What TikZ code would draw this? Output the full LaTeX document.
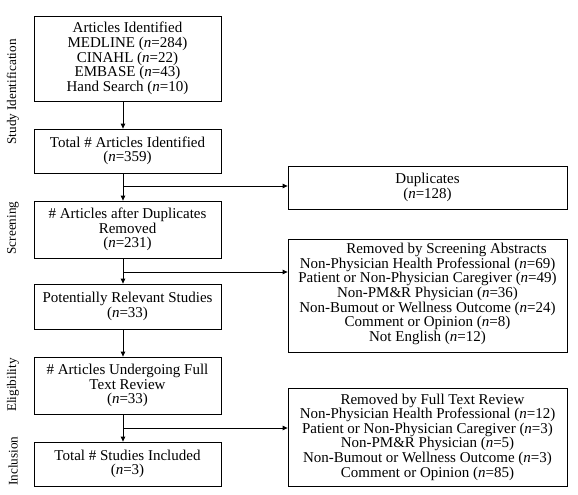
\documentclass[tikz,border=0pt]{standalone}
\usepackage{fontspec}
\setmainfont{Liberation Serif}
\usetikzlibrary{arrows.meta}
\begin{document}
\begin{tikzpicture}[x=1pt,y=-1pt,
  txt/.style={align=center,inner sep=0pt,
    font=\fontsize{15}{14.6}\selectfont},
  box/.style={txt,draw=black,line width=0.8pt},
  lbox/.style={box,minimum width=187pt},
  rbox/.style={box,minimum width=279pt},
  side/.style={rotate=90,font=\fontsize{13.2}{14.6}\selectfont},
  arr/.style={line width=0.8pt,-{Triangle[length=5pt,width=4.5pt]}}]
\useasboundingbox (0,0) rectangle (578,495);
\coordinate (ax) at (123,0);
% left column
\node[lbox,minimum height=85pt] (b1) at (127.5,58.5)
  {Articles Identified\\MEDLINE (\textit{n}=284)\\CINAHL (\textit{n}=22)\\EMBASE (\textit{n}=43)\\Hand Search (\textit{n}=10)};
\node[lbox,minimum height=44pt] (b2) at (127.5,151)
  {Total \# Articles Identified\\(\textit{n}=359)};
\node[lbox,minimum height=57pt] (b3) at (127.5,229.5)
  {\# Articles after Duplicates\\Removed\\(\textit{n}=231)};
\node[lbox,minimum height=45pt] (b4) at (127.5,306.5)
  {Potentially Relevant Studies\\(\textit{n}=33)};
\node[lbox,minimum height=57pt] (b5) at (127.5,385.5)
  {\# Articles Undergoing Full\\Text Review\\(\textit{n}=33)};
\node[lbox,minimum height=44pt] (b6) at (127.5,464)
  {Total \# Studies Included\\(\textit{n}=3)};
% right column
\node[rbox,minimum height=43pt] (dup) at (427.5,187.5)
  {Duplicates\\(\textit{n}=128)};
\node[rbox,minimum height=113pt] (scr) at (427.5,295.5) {};
\node[txt,anchor=north] (scrt) at (427.5,243)
  {\hspace*{38pt}Removed by Screening Abstracts\\Non-Physician Health Professional (\textit{n}=69)\\Patient or Non-Physician Caregiver (\textit{n}=49)\\Non-PM\&R Physician (\textit{n}=36)\\Non-Bumout or Wellness Outcome (\textit{n}=24)\\Comment or Opinion (\textit{n}=8)\\Not English (\textit{n}=12)};
\node[rbox,minimum height=98pt] (ft) at (427.5,437)
  {\hspace*{10pt}Removed by Full Text Review\\Non-Physician Health Professional (\textit{n}=12)\\Patient or Non-Physician Caregiver (\textit{n}=3)\\Non-PM\&R Physician (\textit{n}=5)\\Non-Bumout or Wellness Outcome (\textit{n}=3)\\Comment or Opinion (\textit{n}=85)};
% side labels
\node[side] (s1) at (13,92) {Study Identification};
\node[side] (s2) at (13,228) {Screening};
\node[side] (s3) at (13,385) {Eligibility};
\node[side] (s4) at (13,461) {Inclusion};
% branch points
\coordinate (p1) at (123,186);
\coordinate (p2) at (123,272);
\coordinate (p3) at (123,428);
% connectors
\draw[arr] (b1.south -| ax) -- (b2.north -| ax);
\draw[arr] (b2.south -| ax) -- (b3.north -| ax);
\draw[arr] (b3.south -| ax) -- (b4.north -| ax);
\draw[arr] (b4.south -| ax) -- (b5.north -| ax);
\draw[arr] (b5.south -| ax) -- (b6.north -| ax);
\draw[arr] (p1) -- (p1 -| dup.west);
\draw[arr] (p2) -- (p2 -| scr.west);
\draw[arr] (p3) -- (p3 -| ft.west);
\end{tikzpicture}
\end{document}
